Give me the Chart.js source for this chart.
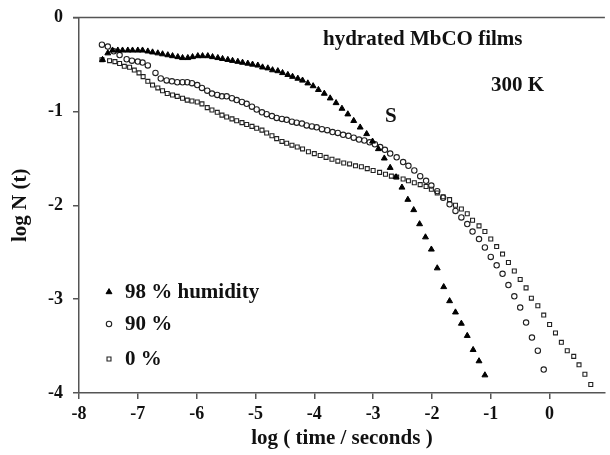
<!DOCTYPE html>
<html>
<head>
<meta charset="utf-8">
<script src="https://cdn.jsdelivr.net/npm/chart.js@4.4.0/dist/chart.umd.min.js"></script>
<style>
body { margin: 0; background: #fff; }
#wrap { width: 610px; height: 455px; position: relative; }
</style>
</head>
<body>
<div id="wrap"><canvas id="chart"></canvas></div>
<script>
// valeurs : [log(t), log N(t)]
const seriesLabels = ['98 % humidity', '90 %', '0 %'];
const xTicks = [-8, -7, -6, -5, -4, -3, -2, -1, 0];
const yTicks = [0, -1, -2, -3, -4];

const humid98 = [
    [-7.60, -0.45], [-7.51, -0.38], [-7.43, -0.35], [-7.34, -0.35], [-7.26, -0.35], [-7.17, -0.35],
    [-7.09, -0.35], [-7.00, -0.35], [-6.92, -0.35], [-6.83, -0.36], [-6.75, -0.37], [-6.66, -0.38],
    [-6.58, -0.39], [-6.49, -0.40], [-6.41, -0.41], [-6.32, -0.42], [-6.24, -0.43], [-6.15, -0.43],
    [-6.07, -0.42], [-5.98, -0.41], [-5.90, -0.41], [-5.81, -0.41], [-5.73, -0.42], [-5.64, -0.43],
    [-5.56, -0.44], [-5.47, -0.45], [-5.39, -0.46], [-5.30, -0.47], [-5.22, -0.48], [-5.13, -0.49],
    [-5.05, -0.50], [-4.96, -0.51], [-4.88, -0.53], [-4.79, -0.54], [-4.71, -0.56], [-4.62, -0.57],
    [-4.54, -0.59], [-4.45, -0.61], [-4.37, -0.63], [-4.28, -0.65], [-4.20, -0.67], [-4.11, -0.70],
    [-4.02, -0.73], [-3.93, -0.77], [-3.83, -0.81], [-3.73, -0.86], [-3.63, -0.91], [-3.53, -0.97],
    [-3.43, -1.03], [-3.33, -1.10], [-3.22, -1.17], [-3.11, -1.24], [-3.01, -1.32], [-2.91, -1.40],
    [-2.81, -1.50], [-2.71, -1.60], [-2.61, -1.70], [-2.51, -1.81], [-2.41, -1.94], [-2.31, -2.05],
    [-2.21, -2.20], [-2.11, -2.34], [-2.01, -2.47], [-1.91, -2.67], [-1.80, -2.87], [-1.70, -3.02],
    [-1.60, -3.14], [-1.50, -3.26], [-1.40, -3.39], [-1.30, -3.54], [-1.20, -3.66], [-1.10, -3.81]
];

const humid90 = [
    [-7.61, -0.29], [-7.51, -0.31], [-7.41, -0.36], [-7.31, -0.40], [-7.19, -0.445], [-7.10, -0.46],
    [-7.00, -0.47], [-6.92, -0.48], [-6.83, -0.51], [-6.70, -0.59], [-6.61, -0.65], [-6.51, -0.67],
    [-6.42, -0.68], [-6.33, -0.69], [-6.24, -0.69], [-6.16, -0.69], [-6.08, -0.70], [-5.99, -0.72],
    [-5.91, -0.75], [-5.82, -0.78], [-5.74, -0.81], [-5.65, -0.825], [-5.57, -0.84], [-5.49, -0.84],
    [-5.40, -0.86], [-5.32, -0.88], [-5.23, -0.90], [-5.15, -0.92], [-5.06, -0.95], [-4.98, -0.98],
    [-4.89, -1.01], [-4.81, -1.03], [-4.72, -1.05], [-4.64, -1.07], [-4.55, -1.08], [-4.47, -1.09],
    [-4.38, -1.11], [-4.30, -1.12], [-4.21, -1.13], [-4.13, -1.15], [-4.04, -1.16], [-3.96, -1.17],
    [-3.87, -1.19], [-3.78, -1.20], [-3.69, -1.22], [-3.60, -1.23], [-3.51, -1.25], [-3.42, -1.26],
    [-3.33, -1.28], [-3.24, -1.30], [-3.15, -1.31], [-3.06, -1.33], [-2.97, -1.35], [-2.88, -1.38],
    [-2.80, -1.41], [-2.71, -1.45], [-2.60, -1.49], [-2.49, -1.54], [-2.40, -1.58], [-2.30, -1.63],
    [-2.20, -1.69], [-2.10, -1.74], [-2.01, -1.79], [-1.91, -1.85], [-1.81, -1.92], [-1.70, -1.99],
    [-1.60, -2.06], [-1.50, -2.13], [-1.40, -2.20], [-1.31, -2.28], [-1.20, -2.36], [-1.10, -2.45],
    [-1.00, -2.55], [-0.90, -2.64], [-0.80, -2.73], [-0.70, -2.85], [-0.60, -2.97], [-0.50, -3.09],
    [-0.40, -3.25], [-0.30, -3.41], [-0.20, -3.55], [-0.10, -3.75]
];

const humid0 = [
    [-7.61, -0.45], [-7.48, -0.46], [-7.39, -0.47], [-7.31, -0.49], [-7.23, -0.52], [-7.14, -0.53],
    [-7.06, -0.56], [-6.98, -0.59], [-6.91, -0.63], [-6.83, -0.68], [-6.75, -0.72], [-6.66, -0.75],
    [-6.58, -0.78], [-6.50, -0.81], [-6.41, -0.825], [-6.33, -0.84], [-6.24, -0.86], [-6.16, -0.88],
    [-6.08, -0.89], [-5.99, -0.90], [-5.91, -0.92], [-5.82, -0.96], [-5.74, -0.985], [-5.65, -1.01],
    [-5.57, -1.04], [-5.49, -1.06], [-5.40, -1.08], [-5.32, -1.10], [-5.23, -1.12], [-5.15, -1.14],
    [-5.06, -1.16], [-4.98, -1.18], [-4.89, -1.20], [-4.81, -1.23], [-4.72, -1.26], [-4.64, -1.29],
    [-4.55, -1.32], [-4.47, -1.34], [-4.38, -1.36], [-4.29, -1.38], [-4.20, -1.40], [-4.10, -1.43],
    [-4.00, -1.45], [-3.90, -1.47], [-3.80, -1.49], [-3.70, -1.51], [-3.60, -1.53], [-3.50, -1.55],
    [-3.40, -1.56], [-3.30, -1.58], [-3.20, -1.59], [-3.10, -1.61], [-3.00, -1.63], [-2.89, -1.65],
    [-2.79, -1.67], [-2.69, -1.69], [-2.60, -1.70], [-2.49, -1.72], [-2.40, -1.74], [-2.30, -1.76],
    [-2.20, -1.78], [-2.10, -1.80], [-2.01, -1.83], [-1.91, -1.87], [-1.81, -1.91], [-1.70, -1.94],
    [-1.60, -2.00], [-1.50, -2.04], [-1.40, -2.09], [-1.31, -2.16], [-1.20, -2.22], [-1.10, -2.28],
    [-1.00, -2.36], [-0.90, -2.44], [-0.80, -2.52], [-0.70, -2.61], [-0.60, -2.70], [-0.50, -2.79],
    [-0.40, -2.88], [-0.31, -2.99], [-0.20, -3.07], [-0.10, -3.17], [0.00, -3.27], [0.10, -3.36],
    [0.20, -3.46], [0.30, -3.55], [0.41, -3.61], [0.50, -3.70], [0.60, -3.80], [0.70, -3.91]
];

const FONT = "'Liberation Serif', 'Times New Roman', serif";
const INK = '#111';
const AXIS = '#555';

Chart.defaults.font.family = FONT;
Chart.defaults.font.weight = 'bold';
Chart.defaults.color = INK;

function toPoints(pairs) {
    return pairs.map(p => ({ x: p[0], y: p[1] }));
}

// cadre du haut, textes et légende dans la zone du graphe
const extras = {
    id: 'extras',
    afterDraw(chart) {
        const { ctx, chartArea } = chart;
        ctx.save();
        ctx.strokeStyle = AXIS;
        ctx.lineWidth = 1.5;
        ctx.beginPath();
        ctx.moveTo(chartArea.left - 6, chartArea.top);
        ctx.lineTo(chartArea.right, chartArea.top);
        ctx.stroke();

        ctx.fillStyle = INK;
        ctx.textBaseline = 'middle';
        ctx.textAlign = 'left';
        ctx.font = 'bold 21px ' + FONT;
        ctx.fillText('hydrated MbCO films', 323, 40);
        ctx.fillText('300 K', 491, 86);
        ctx.fillText('S', 385, 117);

        const rows = [292, 324, 359];
        chart.data.datasets.forEach((ds, i) => {
            ctx.fillStyle = ds.backgroundColor;
            ctx.strokeStyle = ds.borderColor;
            ctx.lineWidth = ds.borderWidth;
            Chart.helpers.drawPoint(ctx, {
                pointStyle: ds.pointStyle,
                radius: ds.pointRadius,
                borderWidth: ds.borderWidth,
                rotation: 0
            }, 109, rows[i]);
            ctx.fillStyle = INK;
            ctx.font = 'bold 21px ' + FONT;
            ctx.fillText(seriesLabels[i], 125, rows[i] + 1);
        });
        ctx.restore();
    }
};

const ctx = document.getElementById('chart').getContext('2d');
new Chart(ctx, {
    type: 'scatter',
    data: {
        datasets: [
            {
                label: seriesLabels[0],
                data: toPoints(humid98),
                pointStyle: 'triangle',
                pointRadius: 3.4,
                backgroundColor: '#000',
                borderColor: '#000',
                borderWidth: 1
            },
            {
                label: seriesLabels[1],
                data: toPoints(humid90),
                pointStyle: 'circle',
                pointRadius: 2.7,
                backgroundColor: 'rgba(255,255,255,0)',
                borderColor: '#222',
                borderWidth: 1.1
            },
            {
                label: seriesLabels[2],
                data: toPoints(humid0),
                pointStyle: 'rect',
                pointRadius: 2.8,
                backgroundColor: 'rgba(255,255,255,0)',
                borderColor: '#222',
                borderWidth: 1.1
            }
        ]
    },
    options: {
        responsive: true,
        maintainAspectRatio: false,
        animation: false,
        layout: { padding: { top: 17.5, right: 0, bottom: 0, left: 0 } },
        plugins: {
            legend: { display: false },
            tooltip: { enabled: false }
        },
        scales: {
            x: {
                type: 'linear',
                min: -8,
                max: 0.94,
                afterBuildTicks: s => { s.ticks = xTicks.map(v => ({ value: v })); },
                afterFit: s => { s.height = 62; s.paddingLeft = 0; s.paddingRight = 0; },
                ticks: { font: { size: 18, weight: 'bold' }, padding: 5, color: INK },
                grid: { drawOnChartArea: false, drawTicks: true, tickLength: 6, color: AXIS, lineWidth: 1.5 },
                border: { display: true, color: AXIS, width: 1.5 },
                title: {
                    display: true,
                    text: 'log ( time / seconds )',
                    font: { size: 21, weight: 'bold' },
                    color: INK,
                    padding: { top: 0, bottom: 4 }
                }
            },
            y: {
                type: 'linear',
                min: -4,
                max: 0,
                afterBuildTicks: s => { s.ticks = yTicks.map(v => ({ value: v })); },
                afterFit: s => { s.width = 79; s.paddingTop = 0; s.paddingBottom = 0; },
                ticks: { font: { size: 18, weight: 'bold' }, padding: 10, color: INK },
                grid: { drawOnChartArea: false, drawTicks: true, tickLength: 6, color: AXIS, lineWidth: 1.5 },
                border: { display: true, color: AXIS, width: 1.5 },
                title: {
                    display: true,
                    text: 'log N (t)',
                    font: { size: 21, weight: 'bold' },
                    color: INK,
                    padding: { top: 8, bottom: 0 }
                }
            }
        }
    },
    plugins: [extras]
});
</script>
</body>
</html>
